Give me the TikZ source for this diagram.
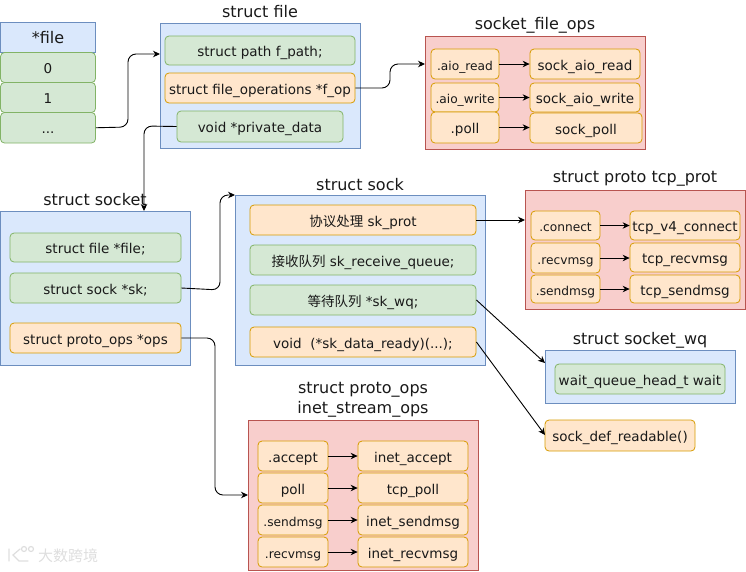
\documentclass[tikz,border=0pt]{standalone}
\usepackage{fontspec}
\setmainfont{DejaVu Sans}
\newfontfamily\cjk{Noto Sans CJK SC}
\usetikzlibrary{arrows.meta}
\newcommand{\smalllabel}{\fontsize{12.2}{14}\selectfont}
\tikzset{
  x=1pt,y=-1pt,
  every node/.style={font=\fontsize{13.5}{15}\selectfont,text=black!90,inner sep=0pt},
  sketch/.style={draw,line width=.8pt,rounded corners=4pt,text height=12pt,text depth=0pt},
  greenbox/.style={sketch,fill=greenfill,draw=greenline},
  orangebox/.style={sketch,fill=orangefill,draw=orangeline},
  bluebox/.style={sketch,fill=bluefill,draw=blueline,rounded corners=0pt,font=\fontsize{16}{18}\selectfont},
  cont/.style={draw,line width=.7pt},
  bluecont/.style={cont,fill=bluefill,draw=blueline},
  redcont/.style={cont,fill=redfill,draw=redline},
  title/.style={font=\fontsize{16}{20}\selectfont,align=center},
  conn/.style={draw=black,line width=.9pt,rounded corners=8pt,-{Stealth[length=7pt,width=6.5pt]}},
  link/.style={draw=black,line width=.9pt,-{Stealth[length=7pt,width=6.5pt]}},
  wm/.style={font=\fontsize{15}{16}\selectfont\cjk,text=black!13},
  wmline/.style={draw=black!13,line width=1.2pt,line cap=round}
}
\definecolor{greenfill}{HTML}{D5E8D4}\definecolor{greenline}{HTML}{82B366}
\definecolor{orangefill}{HTML}{FFE6CC}\definecolor{orangeline}{HTML}{D79B00}
\definecolor{bluefill}{HTML}{DAE8FC}\definecolor{blueline}{HTML}{6C8EBF}
\definecolor{redfill}{HTML}{F8CECC}\definecolor{redline}{HTML}{B85450}
% \bx{style}{name}{x0}{y0}{x1}{y1}{text}
\newcommand{\bx}[7]{\node[#1,minimum width=#5pt-#3pt,minimum height=#6pt-#4pt,anchor=center] (#2) at ({(#3+#5)/2},{(#4+#6)/2}) {#7};}
\begin{document}
\begin{tikzpicture}
\useasboundingbox (0,0) rectangle (746,571);
% containers
\bx{bluecont}{cfile}{160.5}{23.5}{360.5}{148.5}{}
\bx{redcont}{cfops}{425.5}{36.5}{645.5}{149.5}{}
\bx{bluecont}{csocket}{0.5}{211.5}{190.5}{365.5}{}
\bx{bluecont}{csock}{235.5}{195.5}{485.5}{365.5}{}
\bx{redcont}{ctcp}{525.5}{190.5}{745.5}{309.5}{}
\bx{bluecont}{cwq}{545.5}{350.5}{735.5}{403.5}{}
\bx{redcont}{cops}{248.5}{420.5}{478.5}{570.5}{}
% titles
\node[title] (tfile) at (260,12) {struct file};
\node[title] (tfops) at (535,25) {socket\_file\_ops};
\node[title] (tsocket) at (95,200) {struct socket};
\node[title] (tsock) at (360,185) {struct sock};
\node[title] (ttcp) at (635,179) {struct proto tcp\_prot};
\node[title] (twq) at (640,340) {struct socket\_wq};
\node[title] (tops) at (363,400) {struct proto\_ops\\inet\_stream\_ops};
% fd table
\bx{bluebox}{fd}{0.5}{22.5}{95.5}{52.5}{*file}
\bx{greenbox}{fd0}{0.5}{52.5}{95.5}{82.5}{0}
\bx{greenbox}{fd1}{0.5}{82.5}{95.5}{112.5}{1}
\bx{greenbox}{fdn}{0.5}{112.5}{95.5}{143}{...}
% struct file
\bx{greenbox}{fpath}{165}{36}{355}{65}{struct path f\_path;}
\bx{orangebox}{fop}{165}{73}{355}{103}{struct file\_operations *f\_op}
\bx{greenbox}{priv}{177}{111}{343}{142}{void *private\_data}
% socket_file_ops
\bx{orangebox}{aior}{431}{49}{499}{79}{\smalllabel .aio\_read}
\bx{orangebox}{saior}{530}{49}{640}{79}{sock\_aio\_read}
\bx{orangebox}{aiow}{431}{83}{499}{112}{\smalllabel .aio\_write}
\bx{orangebox}{saiow}{530}{83}{640}{112}{sock\_aio\_write}
\bx{orangebox}{fpoll}{431}{112}{499}{143}{.poll}
\bx{orangebox}{spoll}{530}{113}{642}{143}{sock\_poll}
% struct socket
\bx{greenbox}{sfile}{10}{233}{181}{262}{struct file *file;}
\bx{greenbox}{ssk}{10}{273}{181}{303}{struct sock *sk;}
\bx{orangebox}{sops}{10}{323}{181}{353}{struct proto\_ops *ops}
% struct sock
\bx{orangebox}{kprot}{250}{205}{476}{235}{{\cjk 协议处理} sk\_prot}
\bx{greenbox}{krecv}{250}{245}{476}{275}{{\cjk 接收队列} sk\_receive\_queue;}
\bx{greenbox}{kwq}{250}{285}{476}{315}{{\cjk 等待队列} *sk\_wq;}
\bx{orangebox}{kready}{250}{327}{476}{357}{void\ \ (*sk\_data\_ready)(...);}
% tcp_prot
\bx{orangebox}{tconn}{531}{211}{600}{240}{\smalllabel .connect}
\bx{orangebox}{tv4}{630}{211}{740}{240}{tcp\_v4\_connect}
\bx{orangebox}{trecv}{531}{243}{600}{273}{\smalllabel .recvmsg}
\bx{orangebox}{trecvf}{630}{243}{740}{272}{tcp\_recvmsg}
\bx{orangebox}{tsend}{531}{275}{600}{303}{\smalllabel .sendmsg}
\bx{orangebox}{tsendf}{630}{275}{740}{303}{tcp\_sendmsg}
% socket_wq
\bx{greenbox}{wait}{555}{364}{725}{394}{wait\_queue\_head\_t wait}
\bx{orangebox}{readable}{545}{420}{695}{451}{sock\_def\_readable()}
% inet_stream_ops
\bx{orangebox}{oacc}{258}{441}{328}{471}{.accept}
\bx{orangebox}{oaccf}{358}{441}{468}{471}{inet\_accept}
\bx{orangebox}{opoll}{258}{473}{328}{503}{poll}
\bx{orangebox}{opollf}{358}{473}{468}{503}{tcp\_poll}
\bx{orangebox}{osend}{258}{505}{328}{535}{\smalllabel .sendmsg}
\bx{orangebox}{osendf}{358}{505}{468}{535}{inet\_sendmsg}
\bx{orangebox}{orecv}{258}{537}{328}{567}{\smalllabel .recvmsg}
\bx{orangebox}{orecvf}{358}{537}{468}{567}{inet\_recvmsg}
% connectors
\coordinate (pa) at (160,54);
\coordinate (pb) at (144,211);
\coordinate (pc) at (235,195);
\coordinate (pd) at (248,495);
\coordinate (pe) at (425,64);
\coordinate (pf) at (525,220);
\coordinate (pg) at (545,363);
\coordinate (ph) at (545,435);
\draw[conn] (fdn.east) -- (128,127) -- (128,54) -- (pa);
\draw[conn] (priv.west) -- (144,126) -- (pb);
\draw[conn] (ssk.east) -- (220,290) -- (220,195) -- (pc);
\draw[conn] (sops.east) -- (215,338) -- (215,495) -- (pd);
\draw[conn] (fop.east) -- (390,88) -- (390,64) -- (pe);
\draw[link] (kprot.east) -- (pf);
\draw[link] (kwq.east) -- (pg);
\draw[link] (kready.east) -- (ph);
\foreach \a/\b in {aior/saior,aiow/saiow,fpoll/spoll,tconn/tv4,trecv/trecvf,tsend/tsendf,oacc/oaccf,opoll/opollf,osend/osendf,orecv/orecvf}
  \draw[link] (\a.east) -- (\a.east -| \b.west);
% watermark
\draw[wmline] (9,549) -- (9,561) (20,549) -- (13,555) -- (19,561) -- (28,561) (24,549) circle (2.5) (31,549) circle (2.5);
\node[wm,anchor=west] (mark) at (38,556) {大数跨境};
\end{tikzpicture}
\end{document}
